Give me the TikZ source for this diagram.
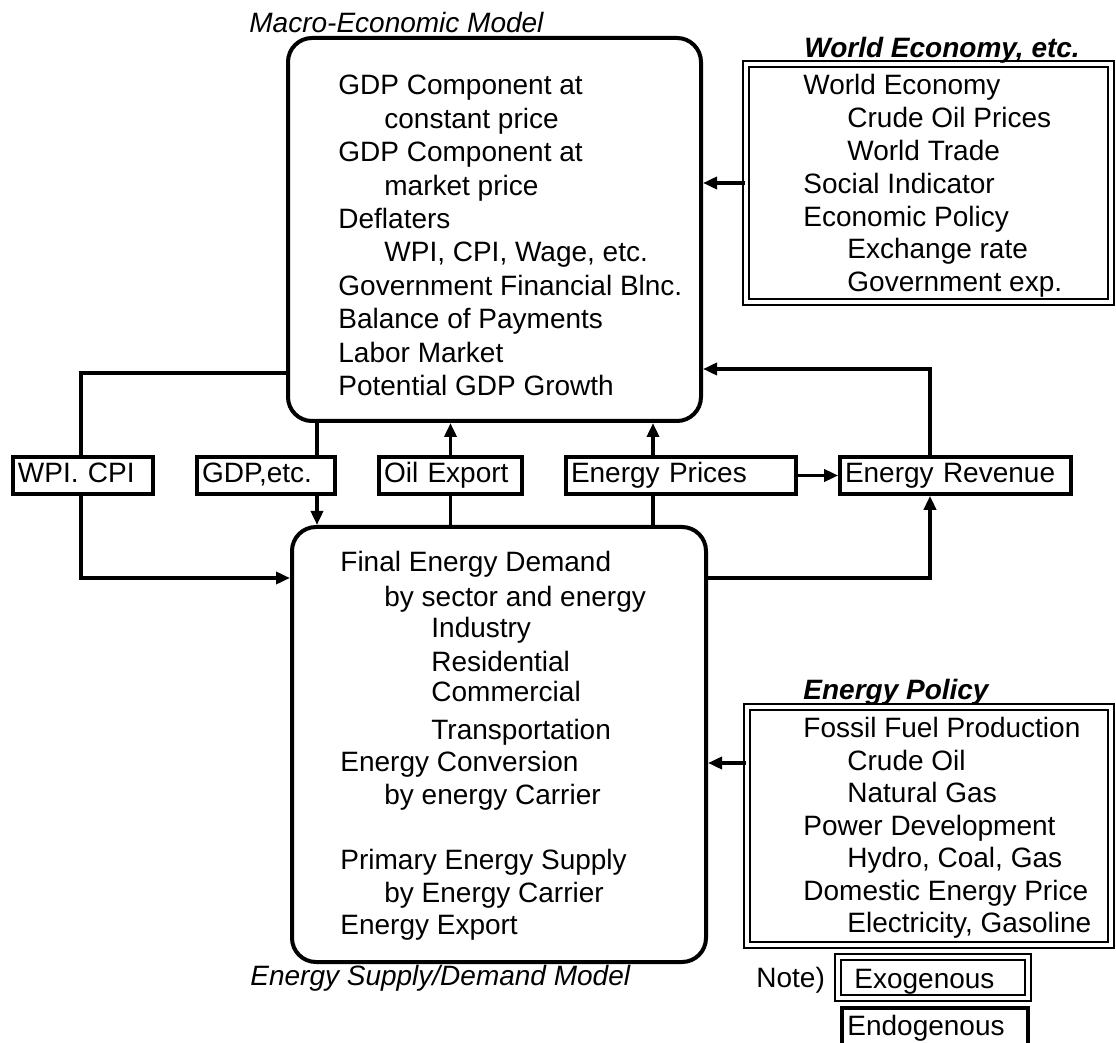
\documentclass[tikz,border=0pt]{standalone}
\usepackage{fontspec}
\setmainfont{Liberation Sans}
\usetikzlibrary{arrows.meta,fit}
\begin{document}
\begin{tikzpicture}[x=0.5pt,y=-0.5pt,
  every node/.style={font=\fontsize{14}{16.5}\selectfont},
  txt/.style={anchor=base west, inner sep=0pt},
  ttl/.style={anchor=base west, inner sep=0pt, font=\fontsize{14}{16.5}\selectfont\itshape},
  bttl/.style={anchor=base west, inner sep=0pt, font=\fontsize{14}{16.5}\selectfont\bfseries\itshape},
  model/.style={draw, line width=2pt, rounded corners=12pt, inner sep=0pt},
  exog/.style={draw, double, line width=0.9pt, double distance=1.8pt, inner sep=0pt},
  lbl/.style={draw, line width=1.8pt, minimum height=18.5pt, inner xsep=2.5pt, inner ysep=0pt,
    text height=10pt, text depth=2.5pt, align=left, anchor=center},
  conn/.style={line width=1.8pt},
  arr/.style={conn, -{Triangle[length=7pt,width=6pt]}}
]
\useasboundingbox (0,0) rectangle (1116,1043);

% ---------- main boxes ----------
\node[model, fit={(288,38) (701,421)}] (macro) {};
\node[model, fit={(292,527) (706,962)}] (esd) {};
\node[exog, fit={(746,64) (1111,302)}] (world) {};
\node[exog, fit={(747,707) (1111,945)}] (policy) {};

% ---------- titles ----------
\node[ttl] (tmacro) at (249,33) {Macro-Economic Model};
\node[bttl] (tworld) at (804,58) {World Economy, etc.};
\node[bttl] (tpol) at (803,700) {Energy Policy};
\node[ttl] (tesd) at (250,986) {Energy Supply/Demand Model};

% ---------- macro text ----------
\node[txt] (m1) at (338,95) {GDP Component at};
\node[txt] (m2) at (384,128.4) {constant price};
\node[txt] (m3) at (338,161.8) {GDP Component at};
\node[txt] (m4) at (384,195.2) {market price};
\node[txt] (m5) at (338,228.6) {Deflaters};
\node[txt] (m6) at (384,262) {WPI, CPI, Wage, etc.};
\node[txt] (m7) at (338,295.4) {Government Financial Blnc.};
\node[txt] (m8) at (338,328.8) {Balance of Payments};
\node[txt] (m9) at (338,362.2) {Labor Market};
\node[txt] (m10) at (338,395.6) {Potential GDP Growth};

% ---------- world text ----------
\node[txt] (w1) at (803,95) {World Economy};
\node[txt] (w2) at (847,127.8) {Crude Oil Prices};
\node[txt] (w3) at (847,160.6) {World Trade};
\node[txt] (w4) at (803,193.4) {Social Indicator};
\node[txt] (w5) at (803,226.2) {Economic Policy};
\node[txt] (w6) at (847,259) {Exchange rate};
\node[txt] (w7) at (847,291.8) {Government exp.};

% ---------- energy model text ----------
\node[txt] (e1) at (340,572) {Final Energy Demand};
\node[txt] (e2) at (384,607) {by sector and energy};
\node[txt] (e3) at (431,638) {Industry};
\node[txt] (e4) at (431,672) {Residential};
\node[txt] (e5) at (431,702) {Commercial};
\node[txt] (e6) at (431,740) {Transportation};
\node[txt] (e7) at (340,772) {Energy Conversion};
\node[txt] (e8) at (384,805) {by energy Carrier};
\node[txt] (e9) at (340,870) {Primary Energy Supply};
\node[txt] (e10) at (384,902) {by Energy Carrier};
\node[txt] (e11) at (340,935) {Energy Export};

% ---------- policy text ----------
\node[txt] (p1) at (803,738) {Fossil Fuel Production};
\node[txt] (p2) at (847,771) {Crude Oil};
\node[txt] (p3) at (847,803) {Natural Gas};
\node[txt] (p4) at (803,835) {Power Development};
\node[txt] (p5) at (847,868) {Hydro, Coal, Gas};
\node[txt] (p6) at (803,900) {Domestic Energy Price};
\node[txt] (p7) at (847,932) {Electricity, Gasoline};

% ---------- middle labels ----------
\node[lbl, text width=65pt] (wpi) at (83,475.5) {WPI. CPI};
\node[lbl, text width=64pt] (gdp) at (266,475.5) {GDP,etc.};
\node[lbl, text width=66.5pt] (oil) at (450.5,475.5) {Oil Export};
\node[lbl, text width=110pt] (eprice) at (681,475.5) {Energy Prices};
\node[lbl, text width=110.5pt] (erev) at (955.5,475.5) {Energy Revenue};

% ---------- legend ----------
\node[txt] (note) at (756,987) {Note)};
\node[exog, fit={(838,957) (1028,998)}] (exo) {};
\node[txt] (exot) at (854,988) {Exogenous};
\draw[line width=1.8pt] (842,1044) |- (1028,1008) -- (1028,1044);
\node[txt] (endot) at (847,1036) {Endogenous};

% ---------- helper coordinates ----------
\coordinate (yW) at (0,183);
\coordinate (yWPI) at (0,373);
\coordinate (yRev) at (0,369);
\coordinate (yLow) at (0,578);
\coordinate (yPol) at (0,763);
\coordinate (xW) at (81,0);
\coordinate (xG) at (317,0);
\coordinate (xP) at (653,0);
\coordinate (xR) at (930,0);

% ---------- connectors ----------
\draw[arr] (world.west |- yW) -- (macro.east |- yW);
\draw[conn] (macro.west |- yWPI) -| (wpi.north -| xW);
\draw[arr] (wpi.south -| xW) |- (esd.west |- yLow);
\draw[conn] (macro.south -| xG) -- (gdp.north -| xG);
\draw[arr] (gdp.south -| xG) -- (esd.north -| xG);
\draw[conn] (esd.north -| oil.south) -- (oil.south);
\draw[arr] (oil.north) -- (macro.south -| oil.north);
\draw[conn] (esd.north -| xP) -- (eprice.south -| xP);
\draw[arr] (eprice.north -| xP) -- (macro.south -| xP);
\draw[arr] (eprice.east) -- (erev.west);
\draw[arr] (erev.north -| xR) |- (macro.east |- yRev);
\draw[arr] (esd.east |- yLow) -| (erev.south -| xR);
\draw[arr] (policy.west |- yPol) -- (esd.east |- yPol);
\end{tikzpicture}
\end{document}
